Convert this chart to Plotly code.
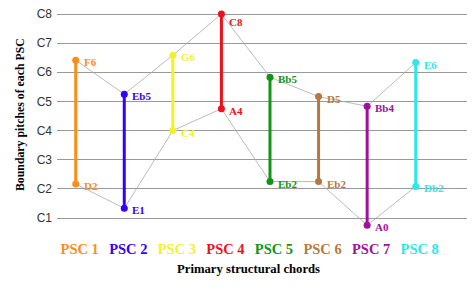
import plotly.graph_objects as go

categories = ["PSC 1", "PSC 2", "PSC 3", "PSC 4", "PSC 5", "PSC 6", "PSC 7", "PSC 8"]
high_names = ["F6", "Eb5", "G6", "C8", "Bb5", "D5", "Bb4", "E6"]
low_names = ["D2", "E1", "C4", "A4", "Eb2", "Eb2", "A0", "Db2"]
# pitches as MIDI note numbers (C4 = 60)
high_pitch = [89, 75, 91, 108, 82, 74, 70, 88]
low_pitch = [38, 28, 60, 69, 39, 39, 21, 37]
colors = ["#FF8C1A", "#3300FF", "#F2F22A", "#F0101A", "#129512", "#B8773E", "#A0109E", "#2EE8E8"]
tick_vals = [24, 36, 48, 60, 72, 84, 96, 108]
tick_text = ["C1", "C2", "C3", "C4", "C5", "C6", "C7", "C8"]

fig = go.Figure()

# connecting thin gray lines
fig.add_trace(go.Scatter(x=categories, y=high_pitch, mode="lines",
                         line=dict(color="#AAAAAA", width=0.8), hoverinfo="skip", showlegend=False))
fig.add_trace(go.Scatter(x=categories, y=low_pitch, mode="lines",
                         line=dict(color="#AAAAAA", width=0.8), hoverinfo="skip", showlegend=False))

for i, c in enumerate(categories):
    fig.add_trace(go.Scatter(x=[c, c], y=[low_pitch[i], high_pitch[i]], mode="lines+markers",
                             line=dict(color=colors[i], width=3),
                             marker=dict(color=colors[i], size=7), showlegend=False))
    for name, val in ((high_names[i], high_pitch[i]), (low_names[i], low_pitch[i])):
        fig.add_annotation(x=c, y=val, text="<b>" + name + "</b>", showarrow=False,
                           xanchor="left", yanchor="middle", xshift=6,
                           yshift=-8 if val == max(high_pitch) else -2,
                           font=dict(family="Liberation Serif", size=11, color=colors[i]))

ticktext_x = ["<b><span style='color:%s'>%s</span></b>" % (colors[i], c) for i, c in enumerate(categories)]

fig.update_xaxes(type="category", range=[-0.385, 8.056], tickvals=categories, ticktext=ticktext_x,
                 tickfont=dict(family="Liberation Serif", size=14.5), showgrid=False, zeroline=False,
                 showline=False, ticks="", ticklabelshift=4, ticklabelstandoff=6)
fig.update_yaxes(range=[18.235, 111.71], tickvals=tick_vals, ticktext=tick_text,
                 tickfont=dict(family="Liberation Sans", size=12, color="#333333"),
                 showgrid=True, gridcolor="#999999", gridwidth=1.3, zeroline=False,
                 showline=False, ticks="", ticklabelstandoff=4)

fig.add_annotation(xref="paper", yref="paper", x=(20 - 57) / 410, y=(232 - 115) / 227,
                   text="<b>Boundary pitches of each PSC</b>", textangle=-90, showarrow=False,
                   xanchor="center", yanchor="middle",
                   font=dict(family="Liberation Serif", size=11.8, color="#000000"))
fig.add_annotation(xref="paper", yref="paper", x=(248 - 57) / 410, y=(232 - 269) / 227,
                   text="<b>Primary structural chords</b>", showarrow=False,
                   xanchor="center", yanchor="middle",
                   font=dict(family="Liberation Serif", size=12.7, color="#000000"))

fig.update_layout(width=475, height=288, margin=dict(l=57, r=8, t=5, b=56),
                  paper_bgcolor="white", plot_bgcolor="white", showlegend=False)

fig.write_html("out.html")
